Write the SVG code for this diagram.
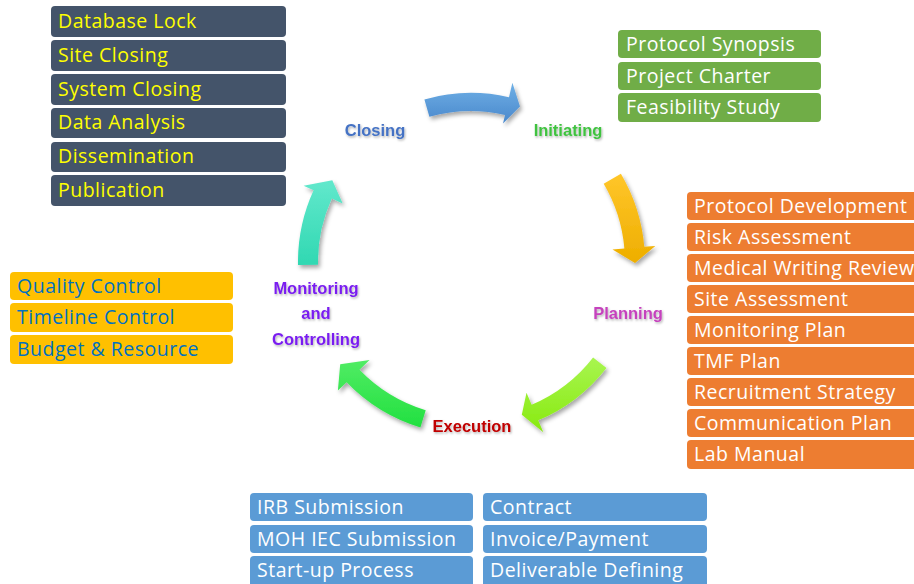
<svg xmlns="http://www.w3.org/2000/svg" width="914" height="584" viewBox="0 0 914 584">
<style>
.bx{font-family:"Open Sans","Liberation Sans",sans-serif;font-size:19.5px;letter-spacing:0.5px}
.lbl{font-family:"Liberation Sans",Arial,sans-serif;font-size:16.5px;font-weight:bold;text-anchor:middle}
.dark rect{fill:#44546a}
.dark text{fill:#ffff00}
.grn rect{fill:#70ad47}
.grn text{fill:#ffffff}
.org rect{fill:#ed7d31}
.org text{fill:#ffffff}
.yel rect{fill:#ffc000}
.yel text{fill:#0070c0}
.blu rect{fill:#5b9bd5}
.blu text{fill:#ffffff}
</style>
<defs>
<filter id="sh" x="-20%" y="-20%" width="140%" height="140%">
<feDropShadow dx="2" dy="3" stdDeviation="2" flood-color="#000" flood-opacity="0.35"/>
</filter>
<filter id="ts" x="-10%" y="-20%" width="120%" height="140%">
<feDropShadow dx="1" dy="1.5" stdDeviation="0.8" flood-color="#000" flood-opacity="0.3"/>
</filter>
<linearGradient id="gBlue" x1="0" y1="0" x2="0" y2="1"><stop offset="0" stop-color="#6fb0e6"/><stop offset="1" stop-color="#4a88cc"/></linearGradient>
<linearGradient id="gOrg" x1="0" y1="0" x2="0" y2="1"><stop offset="0" stop-color="#ffc62a"/><stop offset="1" stop-color="#eeae00"/></linearGradient>
<linearGradient id="gLime" x1="0" y1="0" x2="0" y2="1"><stop offset="0" stop-color="#a8f550"/><stop offset="1" stop-color="#88ea10"/></linearGradient>
<linearGradient id="gGrn" x1="0" y1="0" x2="0" y2="1"><stop offset="0" stop-color="#50ec64"/><stop offset="1" stop-color="#22e040"/></linearGradient>
<linearGradient id="gTeal" x1="0" y1="0" x2="0" y2="1"><stop offset="0" stop-color="#62e8cc"/><stop offset="1" stop-color="#30d8b2"/></linearGradient>
</defs>
<rect width="914" height="584" fill="#ffffff"/>

<g id="connectors" filter="url(#sh)">
<path fill="url(#gBlue)" d="M424.4,99.5 A169,169 0 0 1 509.0,97.3 L512.4,82.7 L520.0,106.5 L503.0,123.6 L505.0,114.9 A151,151 0 0 0 429.4,116.8 Z"/>
<path fill="url(#gOrg)" d="M620.9,173.7 A174,174 0 0 1 644.3,246.8 L655.3,245.9 L635.0,262.9 L612.5,249.6 L624.4,248.6 A154,154 0 0 0 603.7,183.8 Z"/>
<path fill="url(#gLime)" d="M606.5,367.9 A172,172 0 0 1 538.2,420.3 L543.3,432.3 L521.8,414.8 L526.5,392.7 L531.6,404.7 A155,155 0 0 0 593.1,357.4 Z"/>
<path fill="url(#gGrn)" d="M420.4,427.4 A173,173 0 0 1 346.6,382.2 L337.9,390.5 L340.2,364.2 L369.6,359.9 L359.5,369.7 A155,155 0 0 0 425.7,410.2 Z"/>
<path fill="url(#gTeal)" d="M298.0,265.0 A173,173 0 0 1 313.6,190.3 L303.6,185.7 L332.3,180.3 L342.7,203.5 L331.8,198.6 A153,153 0 0 0 318.0,264.7 Z"/>
</g>

<g id="phase-closing" class="lbl" filter="url(#ts)"><text x="375" y="136" fill="#4472c4">Closing</text></g>
<g id="phase-initiating" class="lbl" filter="url(#ts)"><text x="568" y="136" fill="#3fc23f">Initiating</text></g>
<g id="phase-planning" class="lbl" filter="url(#ts)"><text x="628" y="319" fill="#c542bd">Planning</text></g>
<g id="phase-execution" class="lbl" filter="url(#ts)"><text x="472" y="432" fill="#c00000">Execution</text></g>
<g id="phase-monitoring" class="lbl" filter="url(#ts)">
<text x="316" y="294" fill="#7a1ff0">Monitoring</text>
<text x="316" y="319" fill="#7a1ff0">and</text>
<text x="316" y="345" fill="#7a1ff0">Controlling</text>
</g>

<g id="closing-tasks" class="bx dark">
<rect x="51" y="6" width="235" height="31" rx="4"/><text x="58" y="27.5">Database Lock</text>
<rect x="51" y="40" width="235" height="31" rx="4"/><text x="58" y="61.5">Site Closing</text>
<rect x="51" y="74" width="235" height="31" rx="4"/><text x="58" y="95.5">System Closing</text>
<rect x="51" y="108" width="235" height="30" rx="4"/><text x="58" y="129">Data Analysis</text>
<rect x="51" y="142" width="235" height="30" rx="4"/><text x="58" y="163">Dissemination</text>
<rect x="51" y="175" width="235" height="31" rx="4"/><text x="58" y="196.5">Publication</text>
</g>

<g id="initiating-tasks" class="bx grn">
<rect x="618" y="30" width="203" height="28" rx="4"/><text x="626" y="50.5">Protocol Synopsis</text>
<rect x="618" y="62" width="203" height="28" rx="4"/><text x="626" y="82.5">Project Charter</text>
<rect x="618" y="93" width="203" height="29" rx="4"/><text x="626" y="114">Feasibility Study</text>
</g>

<g id="planning-tasks" class="bx org">
<rect x="687" y="192" width="240" height="28" rx="4"/><text x="694" y="212.5">Protocol Development</text>
<rect x="687" y="223" width="240" height="28" rx="4"/><text x="694" y="243.5">Risk Assessment</text>
<rect x="687" y="254" width="240" height="28" rx="4"/><text x="694" y="274.5">Medical Writing Review</text>
<rect x="687" y="285" width="240" height="28" rx="4"/><text x="694" y="305.5">Site Assessment</text>
<rect x="687" y="316" width="240" height="28" rx="4"/><text x="694" y="336.5">Monitoring Plan</text>
<rect x="687" y="347" width="240" height="28" rx="4"/><text x="694" y="367.5">TMF Plan</text>
<rect x="687" y="378" width="240" height="28" rx="4"/><text x="694" y="398.5">Recruitment Strategy</text>
<rect x="687" y="409" width="240" height="28" rx="4"/><text x="694" y="429.5">Communication Plan</text>
<rect x="687" y="440" width="240" height="29" rx="4"/><text x="694" y="461">Lab Manual</text>
</g>

<g id="monitoring-tasks" class="bx yel">
<rect x="10" y="272" width="223" height="28" rx="4"/><text x="17" y="292.5">Quality Control</text>
<rect x="10" y="303" width="223" height="29" rx="4"/><text x="17" y="324">Timeline Control</text>
<rect x="10" y="335" width="223" height="29" rx="4"/><text x="17" y="356">Budget &amp; Resource</text>
</g>

<g id="execution-tasks-left" class="bx blu">
<rect x="250" y="493" width="223" height="28" rx="4"/><text x="257" y="513.5">IRB Submission</text>
<rect x="250" y="525" width="223" height="28" rx="4"/><text x="257" y="545.5">MOH IEC Submission</text>
<rect x="250" y="556" width="223" height="32" rx="4"/><text x="257" y="576.5">Start-up Process</text>
</g>

<g id="execution-tasks-right" class="bx blu">
<rect x="483" y="493" width="224" height="28" rx="4"/><text x="490" y="513.5">Contract</text>
<rect x="483" y="525" width="224" height="28" rx="4"/><text x="490" y="545.5">Invoice/Payment</text>
<rect x="483" y="556" width="224" height="32" rx="4"/><text x="490" y="576.5">Deliverable Defining</text>
</g>
</svg>
